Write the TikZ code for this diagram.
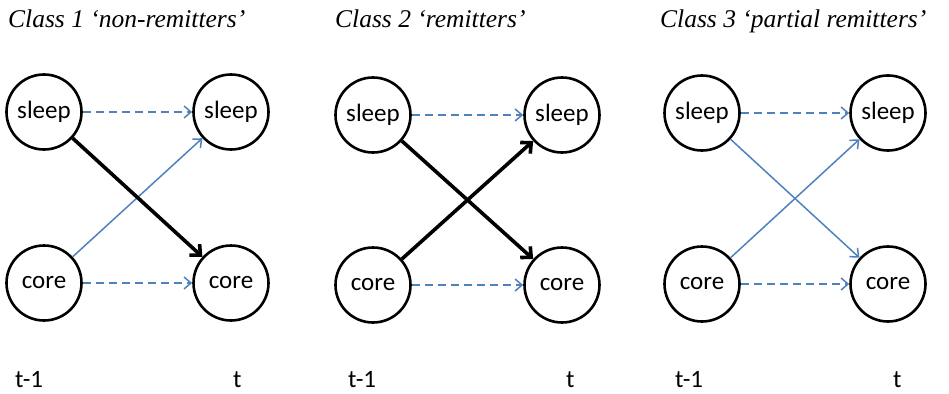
\documentclass[tikz,border=0pt]{standalone}
\usepackage{fontspec}
\setmainfont{Liberation Serif}
\newfontfamily\calib{Carlito}
\usetikzlibrary{arrows.meta}
\definecolor{officeblue}{HTML}{4F81BD}
\tikzset{
  state/.style={circle, draw=black, line width=2.6pt, minimum size=75pt, inner sep=0pt,
    font=\calib\fontsize{25}{28}\selectfont},
  title/.style={anchor=base west, inner sep=0pt, font=\itshape\fontsize{25.5}{29}\selectfont},
  timelabel/.style={anchor=base west, inner sep=0pt, font=\calib\fontsize{25}{28}\selectfont},
  persist/.style={draw=officeblue, line width=1.7pt, dash pattern=on 8pt off 5pt,
    -{Straight Barb[length=7pt,width=12pt,line width=1.5pt]}},
  weak/.style={draw=officeblue, line width=1.5pt,
    -{Straight Barb[length=7pt,width=12pt,line width=1.5pt]}},
  strong/.style={draw=black, line width=3.6pt,
    -{Straight Barb[length=8pt,width=15pt,line width=3.6pt]}}
}
\begin{document}
\begin{tikzpicture}[x=1pt,y=-1pt]
\useasboundingbox (0,0) rectangle (949,393);

% Class 1
\node[title] (t1) at (8,28) {Class 1 `non-remitters'};
\node[state] (s1a) at (44,112) {sleep};
\node[state] (s1b) at (231,112) {sleep};
\node[state] (c1a) at (44,283) {core};
\node[state] (c1b) at (231,283) {core};
\draw[persist] (s1a) -- (s1b);
\draw[persist] (c1a) -- (c1b);
\draw[weak] (c1a) -- (s1b);
\draw[strong] (s1a) -- (c1b);
\node[timelabel] (l1a) at (15,387) {t-1};
\node[timelabel] (l1b) at (233,387) {t};

% Class 2
\node[title] (t2) at (335,28) {Class 2 `remitters'};
\node[state] (s2a) at (373,115) {sleep};
\node[state] (s2b) at (562,115) {sleep};
\node[state] (c2a) at (373,285) {core};
\node[state] (c2b) at (562,285) {core};
\draw[persist] (s2a) -- (s2b);
\draw[persist] (c2a) -- (c2b);
\draw[strong] (c2a) -- (s2b);
\draw[strong] (s2a) -- (c2b);
\node[timelabel] (l2a) at (348,387) {t-1};
\node[timelabel] (l2b) at (566,387) {t};

% Class 3
\node[title] (t3) at (660,28) {Class 3 `partial remitters'};
\node[state] (s3a) at (702,113) {sleep};
\node[state] (s3b) at (888,113) {sleep};
\node[state] (c3a) at (702,284) {core};
\node[state] (c3b) at (888,284) {core};
\draw[persist] (s3a) -- (s3b);
\draw[persist] (c3a) -- (c3b);
\draw[weak] (c3a) -- (s3b);
\draw[weak] (s3a) -- (c3b);
\node[timelabel] (l3a) at (675,387) {t-1};
\node[timelabel] (l3b) at (893,387) {t};
\end{tikzpicture}
\end{document}
